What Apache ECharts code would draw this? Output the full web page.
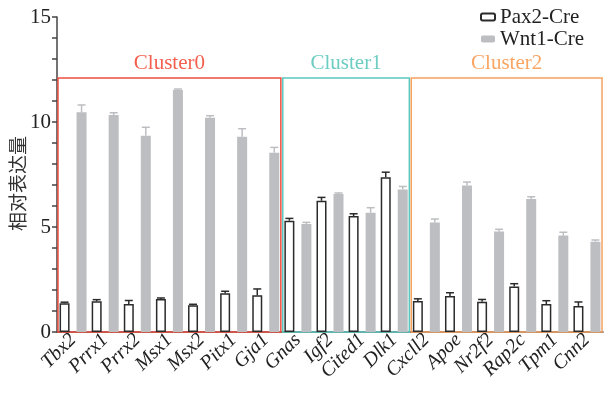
<!DOCTYPE html>
<html>
<head>
<meta charset="utf-8">
<script src="https://cdn.jsdelivr.net/npm/echarts@6/dist/echarts.min.js"></script>
<style>
  html, body { margin: 0; padding: 0; background: #fff; }
  #chart { width: 608px; height: 396px; }
</style>
</head>
<body>
<div id="chart"></div>
<script>
// Genes on the x axis
const categories = ['Tbx2', 'Prrx1', 'Prrx2', 'Msx1', 'Msx2', 'Pitx1', 'Gja1',
  'Gnas', 'Igf2', 'Cited1', 'Dlk1',
  'Cxcll2', 'Apoe', 'Nr2f2', 'Rap2c', 'Tpm1', 'Cnn2'];

// Relative expression (mean) and error (upper bar) per genotype
const pax2Values = [1.37, 1.46, 1.33, 1.57, 1.27, 1.84, 1.75, 5.30, 6.25, 5.52, 7.37, 1.48, 1.71, 1.44, 2.17, 1.33, 1.24];
const pax2Errors = [0.05, 0.08, 0.17, 0.05, 0.05, 0.10, 0.30, 0.11, 0.16, 0.11, 0.24, 0.10, 0.16, 0.11, 0.13, 0.16, 0.19];
const wnt1Values = [10.46, 10.33, 9.35, 11.52, 10.20, 9.30, 8.54, 5.14, 6.57, 5.68, 6.79, 5.22, 6.98, 4.78, 6.33, 4.59, 4.30];
const wnt1Errors = [0.35, 0.11, 0.40, 0.05, 0.10, 0.38, 0.25, 0.08, 0.05, 0.24, 0.14, 0.16, 0.16, 0.11, 0.11, 0.16, 0.08];

const seriesNames = ['Pax2-Cre', 'Wnt1-Cre'];

// Gene clusters: name, [first category index, end index (exclusive)], top of the frame
const clusterNames = ['Cluster0', 'Cluster1', 'Cluster2'];
const clusterRanges = [[0, 7], [7, 11], [11, 17]];
const clusterTop = 12.1;
const clusterColors = ['#ee4d3f', '#5cc8bd', '#f7a15e'];
const clusterTextColors = ['#f4604f', '#6dcdc2', '#f9a564'];

// y axis
const yMin = 0, yMax = 15, yInterval = 5;

const serif = '"Liberation Serif", "DejaVu Serif", serif';
const barWidth = 10;
const gapPx = 7;
const halfStep = (barWidth + gapPx) / 2;

function errorSeries(values, errors, shift, color) {
  return {
    type: 'custom',
    silent: true,
    z: 3,
    data: values.map((v, i) => [i, v, errors[i]]),
    renderItem: function (params, api) {
      const i = api.value(0);
      const v = api.value(1);
      const e = api.value(2);
      const base = api.coord([i, v]);
      const top = api.coord([i, v + e]);
      const x = base[0] + shift;
      const cap = 4;
      const style = { stroke: color, lineWidth: 1.5 };
      return {
        type: 'group',
        children: [
          { type: 'line', shape: { x1: x, y1: base[1], x2: x, y2: top[1] }, style: style },
          { type: 'line', shape: { x1: x - cap, y1: top[1], x2: x + cap, y2: top[1] }, style: style }
        ]
      };
    }
  };
}

const inset = 0.03;
const clusterAreas = clusterNames.map((name, k) => [
  {
    name: name,
    xAxis: clusterRanges[k][0] + inset,
    yAxis: clusterTop,
    itemStyle: { color: 'rgba(0,0,0,0)', borderColor: clusterColors[k], borderWidth: 1.5 },
    label: { color: clusterTextColors[k] }
  },
  { xAxis: clusterRanges[k][1] - inset, yAxis: yMin }
]);

const chart = echarts.init(document.getElementById('chart'), null, { renderer: 'canvas' });

chart.setOption({
  animation: false,
  backgroundColor: '#fff',
  grid: { left: 57, right: 5, top: 17, bottom: 64, containLabel: false, outerBoundsMode: 'none' },
  legend: {
    orient: 'vertical',
    left: 480,
    top: 6,
    padding: 0,
    itemWidth: 14,
    itemHeight: 7,
    itemGap: 0,
    data: seriesNames,
    textStyle: { fontFamily: serif, fontSize: 21, color: '#222', lineHeight: 22 }
  },
  xAxis: [
    {
      type: 'category',
      data: categories,
      boundaryGap: true,
      axisLine: { lineStyle: { color: '#444', width: 1.5 } },
      axisTick: { alignWithLabel: true, length: 5, lineStyle: { color: '#444', width: 1.5 } },
      axisLabel: {
        rotate: 45,
        margin: 5,
        interval: 0,
        fontFamily: serif,
        fontStyle: 'italic',
        fontSize: 20,
        color: '#222'
      }
    },
    {
      type: 'value',
      min: 0,
      max: categories.length,
      show: false
    }
  ],
  yAxis: {
    type: 'value',
    min: yMin,
    max: yMax,
    interval: yInterval,
    name: '相对表达量',
    nameLocation: 'middle',
    nameRotate: 90,
    nameGap: 30,
    nameMoveOverlap: false,
    nameTextStyle: {
      fontFamily: '"Noto Sans CJK SC", sans-serif',
      fontSize: 19,
      color: '#333',
      padding: [0, 18, 0, 0]
    },
    axisLine: { show: true, lineStyle: { color: '#444', width: 1.5 } },
    axisTick: { show: true, length: 5, lineStyle: { color: '#444', width: 1.5 } },
    minorTick: { show: true, splitNumber: 5, length: 5, lineStyle: { color: '#444', width: 1.5 } },
    splitLine: { show: false },
    axisLabel: { margin: 6, fontFamily: serif, fontSize: 21, color: '#222' }
  },
  series: [
    {
      name: seriesNames[0],
      type: 'bar',
      data: pax2Values,
      barWidth: barWidth,
      barGap: (gapPx / barWidth * 100) + '%',
      itemStyle: { color: '#ffffff', borderColor: '#2b2b2b', borderWidth: 1.5 },
      z: 2
    },
    {
      name: seriesNames[1],
      type: 'bar',
      data: wnt1Values,
      barWidth: barWidth,
      itemStyle: { color: '#bdbec1' },
      z: 2
    },
    errorSeries(pax2Values, pax2Errors, -halfStep, '#2b2b2b'),
    errorSeries(wnt1Values, wnt1Errors, halfStep, '#bdbec1'),
    {
      type: 'scatter',
      xAxisIndex: 1,
      yAxisIndex: 0,
      data: [],
      silent: true,
      z: 4,
      markArea: {
        silent: true,
        label: {
          show: true,
          position: 'top',
          distance: 3,
          fontFamily: serif,
          fontSize: 21
        },
        data: clusterAreas
      }
    }
  ]
});
</script>
</body>
</html>
